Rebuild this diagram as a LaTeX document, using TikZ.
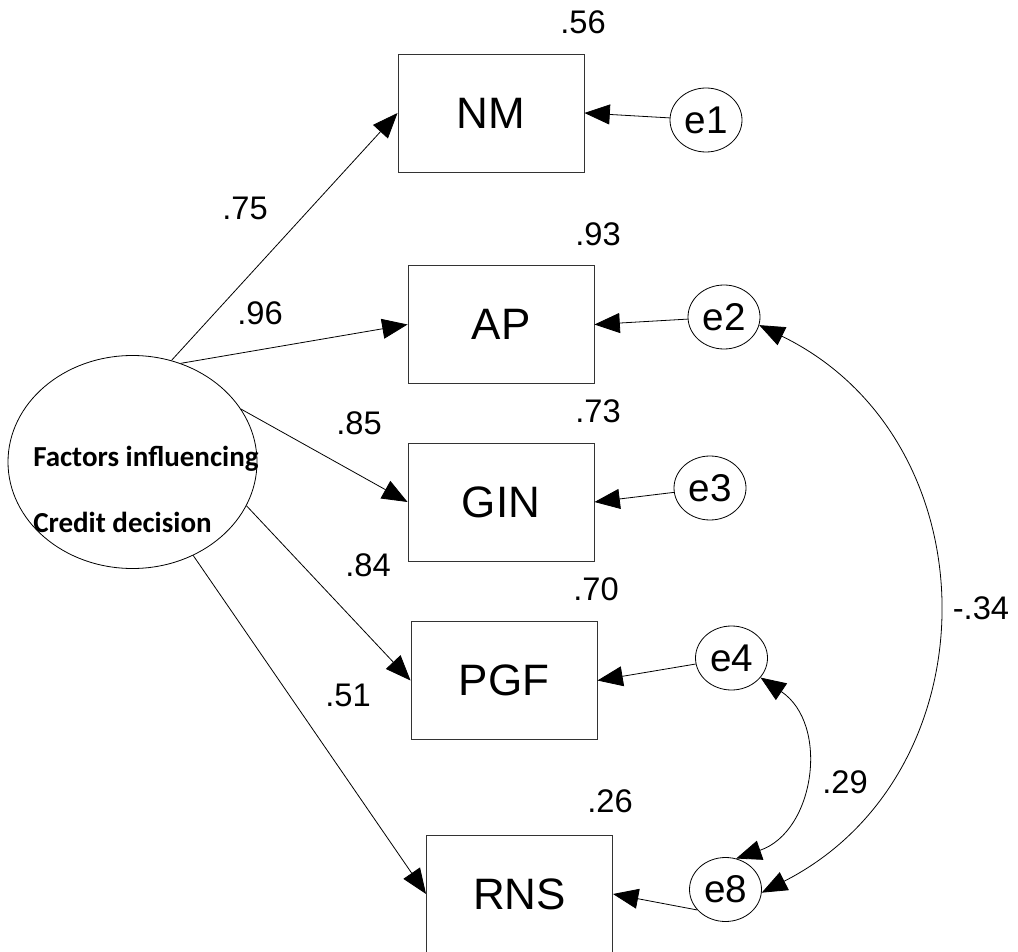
\documentclass[tikz,border=0pt]{standalone}
\usepackage{fontspec}
\setmainfont{Liberation Sans}
\newfontfamily\carlito{Carlito}
\usetikzlibrary{arrows.meta,shapes.geometric}

\begin{document}
\begin{tikzpicture}[x=0.75pt,y=-0.75pt,
  obs/.style={draw=black!80, line width=0.7pt, minimum width=139.5pt,
    minimum height=88.5pt, inner sep=0pt, font=\fontsize{33}{33}\selectfont},
  err/.style={draw, ellipse, line width=0.6pt, minimum width=54pt,
    minimum height=48pt, inner sep=0pt, font=\fontsize{29}{29}\selectfont},
  lat/.style={draw, ellipse, line width=0.6pt, minimum width=186.75pt,
    minimum height=159.75pt, inner sep=0pt},
  num/.style={inner sep=0pt, font=\fontsize{24.5}{24.5}\selectfont},
  lbl/.style={inner sep=0pt, anchor=base west,
    font=\carlito\bfseries\fontsize{21.75}{21.75}\selectfont},
  tip/.tip={Triangle[length=19pt,width=15pt]},
  regr/.style={line width=0.6pt, -tip},
  cov/.style={line width=0.6pt, tip-tip}
]
\useasboundingbox (0,0) rectangle (1018,952);

% latent factor
\node[lat] (fac) at (132.5,462) {};
\node[lbl] (fac1) at (33,466) {Factors influencing};
\node[lbl] (fac2) at (33,532) {Credit decision};

% observed indicators
\node[obs] (NM)  at (491,113)   {NM};
\node[obs] (AP)  at (501,324.5) {AP};
\node[obs] (GIN) at (501,502)   {GIN};
\node[obs] (PGF) at (504,680.5) {PGF};
\node[obs] (RNS) at (519.5,894) {RNS};

% error terms
\node[err] (e1) at (706,120)     {e1};
\node[err] (e2) at (724,317)     {e2};
\node[err] (e3) at (710,488)     {e3};
\node[err] (e4) at (731.5,658)   {e4};
\node[err] (e8) at (725.5,889.5) {e8};

% loadings
\draw[regr] (fac.69)  -- (NM.west);
\draw[regr] (fac.64)  -- (AP.west);
\draw[regr] (fac.26)  -- (GIN.west);
\draw[regr] (fac.-21) -- (PGF.west);
\draw[regr] (fac.-57) -- (RNS.west);

% error paths
\draw[regr] (e1) -- (NM.east);
\draw[regr] (e2) -- (AP.east);
\draw[regr] (e3) -- (GIN.east);
\draw[regr] (e4) -- (PGF.east);
\draw[regr] (e8.216) -- (RNS.east);

% error covariances (circular arcs)
\draw[cov] (e4.-34) to[out=-34,in=19,looseness=1.17] (e8.71);
\draw[cov] (e2.-13) to[out=-26,in=27,looseness=1.18] (e8.-5);

% estimates
\node[num] (r1) at (583,22)  {.56};
\node[num] (r2) at (598,234) {.93};
\node[num] (r3) at (598,411) {.73};
\node[num] (r4) at (596,589) {.70};
\node[num] (r5) at (610,801) {.26};
\node[num] (w1) at (245,208) {.75};
\node[num] (w2) at (260,313) {.96};
\node[num] (w3) at (359,423) {.85};
\node[num] (w4) at (368,565) {.84};
\node[num] (w5) at (348,695) {.51};
\node[num] (c1) at (845,782) {.29};
\node[num] (c2) at (981,608) {-.34};
\end{tikzpicture}
\end{document}
